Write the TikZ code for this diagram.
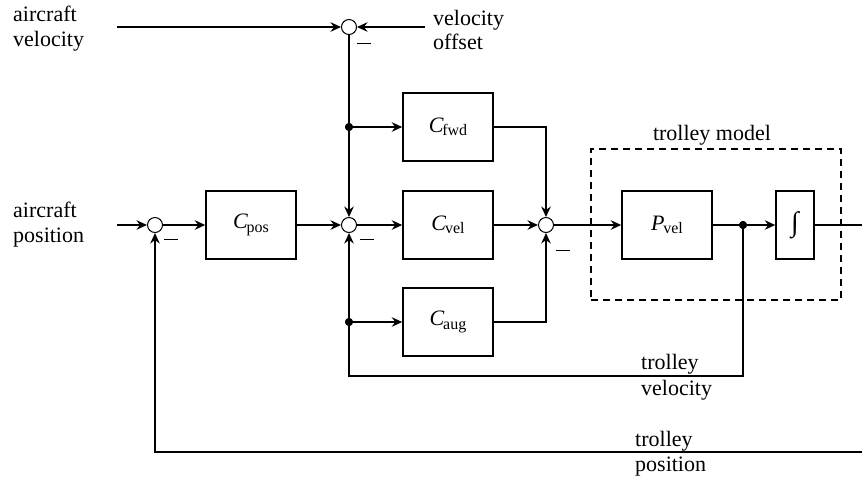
\documentclass[tikz,border=0pt]{standalone}
\usepackage{fontspec}
\setmainfont{Liberation Serif}
\usetikzlibrary{arrows.meta,calc}
\newcommand{\blklabel}[2]{\textit{#1}\kern-0.06em\raisebox{-0.35ex}{\fontsize{16}{16}\selectfont #2}}
\tikzset{
  sig/.style={line width=1.7pt, -{Stealth[length=10.5pt,width=9.5pt,inset=3.5pt]}},
  sumnode/.style={circle, draw, line width=1pt, minimum size=15pt, inner sep=0pt, fill=white},
  blk/.style={draw, line width=1.5pt, minimum width=90pt, minimum height=68pt, inner sep=0pt},
  dotnode/.style={circle, fill, inner sep=0pt, minimum size=8pt},
  lbl/.style={inner sep=0pt, anchor=base west},
  minus/.style={inner sep=0pt},
}
\newcommand{\minussign}{\rule{14pt}{0.75pt}}
\begin{document}
\begin{tikzpicture}[x=1pt, y=-1pt, font=\fontsize{22}{24}\selectfont]
\useasboundingbox (0,0) rectangle (862,483);
% summing junctions
\node[sumnode] (st) at (349,27) {};
\node[sumnode] (s0) at (155,225) {};
\node[sumnode] (s1) at (349,225) {};
\node[sumnode] (s2) at (546,225) {};
% blocks
\node[blk] (cpos) at (251,225) {\blklabel{C}{pos}};
\node[blk] (cvel) at (448,225) {\blklabel{C}{vel}};
\node[blk] (cfwd) at (448,127) {\blklabel{C}{fwd}};
\node[blk] (caug) at (448,322) {\blklabel{C}{aug}};
\node[blk] (pvel) at (667,225) {\blklabel{P}{vel}};
\node[blk, minimum width=38pt] (integ) at (795,225) {\fontsize{28}{28}\selectfont ∫};
% dashed model box
\node[draw, line width=1.5pt, dash pattern=on 7pt off 5pt, minimum width=250pt, minimum height=151pt, inner sep=0pt] (model) at (716,224.5) {};
\node[inner sep=0pt, anchor=base] (modellbl) at (712,140) {trolley model};
% coordinates
\coordinate (avin) at (117,27);
\coordinate (voin) at (425,27);
\coordinate (apin) at (117,225);
\coordinate (vloop) at (349,376);
\coordinate (outr) at (874,225);
\coordinate (outd) at (874,452);
\node[dotnode] (dot1) at (349,127) {};
\node[dotnode] (dot2) at (349,322) {};
\node[dotnode] (dot3) at (743,225) {};
% connectors
\draw[sig] (avin) -- (st);
\draw[sig] (voin) -- (st);
\draw[sig] (st) -- (s1);
\draw[sig] (dot1) -- (cfwd);
\draw[sig] (apin) -- (s0);
\draw[sig] (s0) -- (cpos);
\draw[sig] (cpos) -- (s1);
\draw[sig] (s1) -- (cvel);
\draw[sig] (cvel) -- (s2);
\draw[sig] (cfwd) -| (s2);
\draw[sig] (caug) -| (s2);
\draw[sig] (s2) -- (pvel);
\draw[sig] (pvel) -- (integ);
\draw[sig] (dot3) |- (vloop) -- (s1);
\draw[sig] (dot2) -- (caug);
\draw[sig] (integ) -- (outr) -- (outd) -| (s0);
% redraw dots on top
\node[dotnode] at (dot1) {};
\node[dotnode] at (dot2) {};
\node[dotnode] at (dot3) {};
% minus signs
\node[minus] (m0) at (364,43) {\minussign};
\node[minus] (m1) at (171,239) {\minussign};
\node[minus] (m2) at (367,239) {\minussign};
\node[minus] (m3) at (563,250) {\minussign};
% text labels
\node[lbl] (av1) at (13,21) {aircraft};
\node[lbl] (av2) at (13,46) {velocity};
\node[lbl] (vo1) at (433,25) {velocity};
\node[lbl] (vo2) at (433,49) {offset};
\node[lbl] (ap1) at (13,217) {aircraft};
\node[lbl] (ap2) at (13,242) {position};
\node[lbl] (tv1) at (641,369) {trolley};
\node[lbl] (tv2) at (641,395) {velocity};
\node[lbl] (tp1) at (635,446) {trolley};
\node[lbl] (tp2) at (635,471) {position};
\end{tikzpicture}
\end{document}
